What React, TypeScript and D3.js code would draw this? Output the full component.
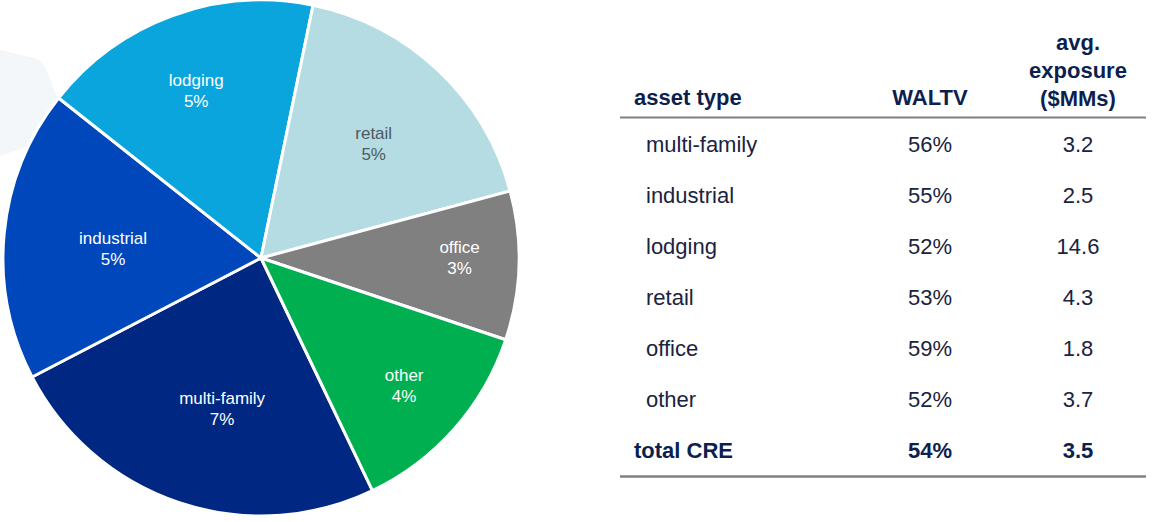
import React from "react";
import * as d3 from "d3";

// ---- data ----
const sliceNames = ["multi-family", "industrial", "lodging", "retail", "office", "other"];
const sliceValues = [7.1, 5.3, 5.1, 5.1, 2.7, 3.7];
const sliceLabels = ["7%", "5%", "5%", "5%", "3%", "4%"];

const tableHeaders = ["asset type", "WALTV", "avg.\nexposure\n($MMs)"];
const assetTypes = ["multi-family", "industrial", "lodging", "retail", "office", "other"];
const waltvValues = ["56%", "55%", "52%", "53%", "59%", "52%"];
const exposureValues = ["3.2", "2.5", "14.6", "4.3", "1.8", "3.7"];
const totalRow = ["total CRE", "54%", "3.5"];

// ---- styles / layout ----
const sliceColors = ["#002882", "#0047BB", "#0AA5DC", "#B4DCE2", "#808080", "#00B050"];
const labelColors = ["#ffffff", "#ffffff", "#ffffff", "#4d5a63", "#ffffff", "#ffffff"];
const labelRadiusFactor = [0.61, 0.58, 0.7, 0.62, 0.77, 0.74];
const labelNudge: [number, number][] = [[11, 1], [1, 4], [-3, 2], [3, 1], [0, -7], [0, 1]];

const W = 1174;
const H = 522;
const cx = 261;
const cy = 258;
const R = 258;
const startDeg = 154.4;

const FONT = "'Liberation Sans', Arial, Helvetica, sans-serif";
const headColor = "#0c1f4f";
const bodyColor = "#1a2340";

export default function App() {
  const pie = d3
    .pie<number>()
    .sort(null)
    .value((d) => d)
    .startAngle((startDeg * Math.PI) / 180)
    .endAngle((startDeg * Math.PI) / 180 + 2 * Math.PI);
  const arcs = pie(sliceValues);
  const arc = d3.arc<d3.PieArcDatum<number>>().innerRadius(0).outerRadius(R);

  const rowY = d3.scaleLinear().domain([0, 6]).range([152, 458]);
  const colX = { label: 646, totalLabel: 634, waltv: 930, exposure: 1078 };
  const lineX = d3.scaleLinear().domain([0, 1]).range([620, 1146]);

  const headerLines = tableHeaders[2].split("\n");

  return (
    <svg
      width={W}
      height={H}
      style={{ position: "absolute", left: 0, top: 0, background: "#ffffff" }}
      fontFamily={FONT}
    >
      {/* faint background shape */}
      <path
        d="M0,50 L34,58 Q42,61 46,69 L58,100 L52,138 L0,156 Z"
        fill="#f3f7f9"
      />
      <g transform={`translate(${cx},${cy})`}>
        {arcs.map((a, i) => (
          <path
            key={sliceNames[i]}
            d={arc(a) || ""}
            fill={sliceColors[i]}
            stroke="#ffffff"
            strokeWidth={3}
            strokeLinejoin="round"
          />
        ))}
        {arcs.map((a, i) => {
          const mid = (a.startAngle + a.endAngle) / 2;
          const r = R * labelRadiusFactor[i];
          const x = Math.sin(mid) * r + labelNudge[i][0];
          const y = -Math.cos(mid) * r + labelNudge[i][1];
          return (
            <text
              key={"l" + sliceNames[i]}
              x={x}
              y={y}
              textAnchor="middle"
              fontSize={17}
              fill={labelColors[i]}
            >
              <tspan x={x} y={y - 4}>
                {sliceNames[i]}
              </tspan>
              <tspan x={x} y={y + 17}>
                {sliceLabels[i]}
              </tspan>
            </text>
          );
        })}
      </g>

      {/* table header */}
      <text x={colX.totalLabel} y={105} fontSize={22} fontWeight="bold" fill={headColor}>
        {tableHeaders[0]}
      </text>
      <text x={colX.waltv} y={105} fontSize={22} fontWeight="bold" fill={headColor} textAnchor="middle">
        {tableHeaders[1]}
      </text>
      <text fontSize={22} fontWeight="bold" fill={headColor} textAnchor="middle">
        {headerLines.map((t, i) => (
          <tspan key={t} x={colX.exposure} y={106 - (headerLines.length - 1 - i) * 28}>
            {t}
          </tspan>
        ))}
      </text>
      <line x1={lineX(0)} x2={lineX(1)} y1={117.5} y2={117.5} stroke="#808080" strokeWidth={2} />

      {/* rows */}
      {assetTypes.map((t, i) => (
        <g key={t}>
          <text x={colX.label} y={rowY(i)} fontSize={22} fill={bodyColor}>
            {t}
          </text>
          <text x={colX.waltv} y={rowY(i)} fontSize={22} fill={bodyColor} textAnchor="middle">
            {waltvValues[i]}
          </text>
          <text x={colX.exposure} y={rowY(i)} fontSize={22} fill={bodyColor} textAnchor="middle">
            {exposureValues[i]}
          </text>
        </g>
      ))}
      <text x={colX.totalLabel} y={rowY(6)} fontSize={22} fontWeight="bold" fill={headColor}>
        {totalRow[0]}
      </text>
      <text x={colX.waltv} y={rowY(6)} fontSize={22} fontWeight="bold" fill={headColor} textAnchor="middle">
        {totalRow[1]}
      </text>
      <text x={colX.exposure} y={rowY(6)} fontSize={22} fontWeight="bold" fill={headColor} textAnchor="middle">
        {totalRow[2]}
      </text>
      <line x1={lineX(0)} x2={lineX(1)} y1={476.5} y2={476.5} stroke="#808080" strokeWidth={2.5} />
    </svg>
  );
}
